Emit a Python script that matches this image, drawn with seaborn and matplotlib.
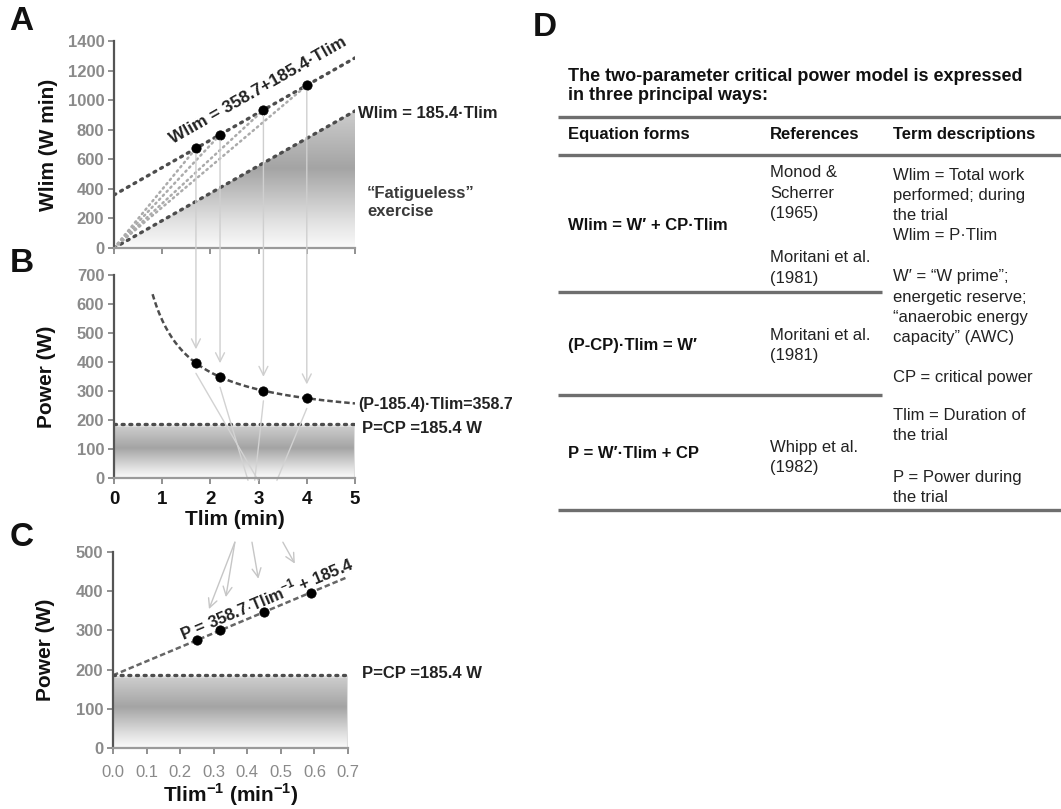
import numpy as np
import pandas as pd
import matplotlib
matplotlib.use("Agg")
import matplotlib.pyplot as plt
from matplotlib.patches import ConnectionPatch, Polygon, Rectangle
from matplotlib.colors import LinearSegmentedColormap
import seaborn as sns

# ---- model parameters ----
W_PRIME = 358.7   # W min
CP = 185.4        # W

# ---- trial data ----
tlim_min = [1.7, 2.2, 3.1, 4.0]          # time to exhaustion (min)
power_w = [396, 348, 301, 275]           # power output (W)
wlim_wmin = [674, 766, 933, 1100]        # total work (W min)
inv_tlim = [0.59, 0.45, 0.32, 0.25]      # 1/Tlim (min^-1)

# ---- axis ticks ----
a_yticks = [0, 200, 400, 600, 800, 1000, 1200, 1400]
b_yticks = [0, 100, 200, 300, 400, 500, 600, 700]
c_yticks = [0, 100, 200, 300, 400, 500]
time_ticks = [0, 1, 2, 3, 4, 5]
inv_ticks = [0.0, 0.1, 0.2, 0.3, 0.4, 0.5, 0.6, 0.7]
inv_ticklabels = ["0.0", "0.1", "0.2", "0.3", "0.4", "0.5", "0.6", "0.7"]

# ---- table text ----
table_title = "The two-parameter critical power model is expressed\nin three principal ways:"
table_headers = ["Equation forms", "References", "Term descriptions"]
equation_forms = ["Wlim = W\u2032 + CP\u00b7Tlim", "(P-CP)\u00b7Tlim = W\u2032", "P = W\u2032\u00b7Tlim + CP"]
references = [["Monod &", "Scherrer", "(1965)", "", "Moritani et al.", "(1981)"],
              ["Moritani et al.", "(1981)"],
              ["Whipp et al.", "(1982)"]]
term_descriptions = ["Wlim = Total work", "performed; during", "the trial", "Wlim = P\u00b7Tlim",
                     "W\u2032 = \u201cW prime\u201d;", "energetic reserve;", "\u201canaerobic energy",
                     "capacity\u201d (AWC)", "CP = critical power", "Tlim = Duration of", "the trial",
                     "P = Power during", "the trial"]

sns.set_theme(style="white")
plt.rcParams["font.family"] = ["Liberation Sans", "DejaVu Sans"]
plt.rcParams["mathtext.fontset"] = "custom"
plt.rcParams["mathtext.rm"] = "Liberation Sans"
plt.rcParams["mathtext.bf"] = "Liberation Sans:bold"

W, H = 1061, 809
fig = plt.figure(figsize=(W / 100, H / 100), dpi=100)
fig.patch.set_facecolor("white")


def px_axes(x0, y0, x1, y1):
    return fig.add_axes([x0 / W, 1 - y1 / H, (x1 - x0) / W, (y1 - y0) / H])


axA = px_axes(114, 41, 355, 248)
axB = px_axes(114, 275, 355, 478)
axC = px_axes(113, 552, 348, 748)

grad_cmap = LinearSegmentedColormap.from_list(
    "shade", [(0.0, "#fbfbfb"), (0.2, "#e0e0e0"), (0.58, "#a4a4a4"), (1.0, "#cdcdcd")])
grad = np.linspace(0, 1, 256).reshape(-1, 1)

DARK = "#4d4d4d"
TICKGRAY = "#8a8a8a"


def style_axes(ax):
    for s in ("top", "right"):
        ax.spines[s].set_visible(False)
    ax.spines["left"].set_color("#555555")
    ax.spines["left"].set_linewidth(1.6)
    ax.spines["bottom"].set_color("#9a9a9a")
    ax.spines["bottom"].set_linewidth(1.6)
    ax.tick_params(axis="both", which="major", direction="out", length=4, width=1.3,
                   color="#888888", labelcolor=TICKGRAY, labelsize=12, pad=3,
                   left=True, bottom=True)
    for lab in ax.get_yticklabels():
        lab.set_fontweight("bold")
    ax.grid(False)
    ax.set_facecolor("none")


# ---------------- Panel A ----------------
t_line = np.linspace(0, 5, 100)
axA.imshow(grad, origin="lower", aspect="auto", cmap=grad_cmap,
           extent=[0, 5, 0, CP * 5], zorder=0)
tri = Polygon([[0, 0], [5, CP * 5], [5, 0]], closed=True, transform=axA.transData,
              facecolor="none", edgecolor="none")
axA.add_patch(tri)
axA.images[0].set_clip_path(tri)

dot_style = dict(linestyle=(0, (0.6, 1.7)), linewidth=2.4, dash_capstyle="round")
sns.lineplot(x=t_line, y=W_PRIME + CP * t_line, ax=axA, color=DARK, **dot_style)
sns.lineplot(x=t_line, y=CP * t_line, ax=axA, color=DARK, **dot_style)
for t, w in zip(tlim_min, wlim_wmin):
    sns.lineplot(x=[0, t], y=[0, w], ax=axA, color="#ababab",
                 linestyle=(0, (0.6, 1.6)), linewidth=1.8, dash_capstyle="round")
sns.scatterplot(x=tlim_min, y=wlim_wmin, ax=axA, color="black", s=45,
                edgecolor="black", zorder=5)

axA.set_xlim(0, 5)
axA.set_ylim(0, 1400)
axA.set_xticks(time_ticks)
axA.set_yticks(a_yticks)
style_axes(axA)
axA.tick_params(axis="x", labelbottom=False)
axA.set_xlabel("")
axA.set_ylabel("Wlim (W min)", fontsize=15, fontweight="bold", color="#111111")
axA.yaxis.set_label_coords(-0.232, 0.5)

p1 = axA.transData.transform((0, W_PRIME))
p2 = axA.transData.transform((5, W_PRIME + CP * 5))
angA = np.degrees(np.arctan2(p2[1] - p1[1], p2[0] - p1[0]))
axA.text(2.98, 1065, f"Wlim = {W_PRIME}+{CP}\u00b7Tlim", rotation=angA,
         rotation_mode="anchor", ha="center", va="center", fontsize=12.5,
         fontweight="bold", color="#222222")
axA.text(5.06, 913, f"Wlim = {CP}\u00b7Tlim", ha="left", va="center", fontsize=12,
         fontweight="bold", color="#222222", clip_on=False)
axA.text(5.25, 305, "\u201cFatigueless\u201d\nexercise", ha="left", va="center", fontsize=12,
         fontweight="bold", color="#3a3a3a", linespacing=1.25, clip_on=False)

# ---------------- Panel B ----------------
axB.imshow(grad, origin="lower", aspect="auto", cmap=grad_cmap,
           extent=[0, 5, 0, 178], zorder=0)
axB.add_patch(Rectangle((0, 0), 5, 178, facecolor="none", edgecolor="#dedede",
                        linewidth=1.5, zorder=1))
t_curve = np.linspace(0.8, 5, 200)
sns.lineplot(x=t_curve, y=CP + W_PRIME / t_curve, ax=axB, color=DARK,
             linestyle=(0, (2.2, 1.2)), linewidth=1.8)
sns.lineplot(x=[0, 5], y=[CP, CP], ax=axB, color=DARK, **dot_style)
sns.scatterplot(x=tlim_min, y=power_w, ax=axB, color="black", s=45,
                edgecolor="black", zorder=5)

# guide lines from each point towards the reciprocal plot
cross_end_x = [2.99, 2.78, 2.92, 3.38]
for t, p, xe in zip(tlim_min, power_w, cross_end_x):
    axB.plot([t, xe], [p - 35, -8], color="#d2d2d2", linewidth=1.0, clip_on=False, zorder=2)

axB.set_xlim(0, 5)
axB.set_ylim(0, 700)
axB.set_xticks(time_ticks)
axB.set_yticks(b_yticks)
style_axes(axB)
axB.tick_params(axis="x", labelcolor="#111111", labelsize=13.5, pad=5)
for lab in axB.get_xticklabels():
    lab.set_fontweight("bold")
axB.set_xlabel("Tlim (min)", fontsize=15, fontweight="bold", color="#111111", labelpad=2)
axB.set_ylabel("Power (W)", fontsize=15, fontweight="bold", color="#111111")
axB.yaxis.set_label_coords(-0.24, 0.5)
axB.text(5.06, 252, f"(P-{CP})\u00b7Tlim={W_PRIME}", ha="left", va="center", fontsize=11.5,
         fontweight="bold", color="#222222", clip_on=False)
axB.text(5.15, 169, f"P=CP ={CP} W", ha="left", va="center", fontsize=12,
         fontweight="bold", color="#222222", clip_on=False)

# ---------------- Panel C ----------------
axC.imshow(grad, origin="lower", aspect="auto", cmap=grad_cmap,
           extent=[0, 0.7, 0, 180], zorder=0)
axC.add_patch(Rectangle((0, 0), 0.7, 180, facecolor="none", edgecolor="#dedede",
                        linewidth=1.5, zorder=1))
x_inv = np.linspace(0, 0.7, 100)
sns.lineplot(x=x_inv, y=CP + W_PRIME * x_inv, ax=axC, color="#666666",
             linestyle=(0, (2.2, 1.2)), linewidth=1.8)
sns.lineplot(x=[0, 0.7], y=[CP, CP], ax=axC, color=DARK, **dot_style)
sns.scatterplot(x=inv_tlim, y=power_w, ax=axC, color="black", s=45,
                edgecolor="black", zorder=5)

axC.set_xlim(0, 0.7)
axC.set_ylim(0, 500)
axC.set_xticks(inv_ticks)
axC.set_xticklabels(inv_ticklabels)
axC.set_yticks(c_yticks)
style_axes(axC)
axC.tick_params(axis="x", pad=8)
axC.set_xlabel(r"Tlim$^{\mathbf{-1}}$ (min$^{\mathbf{-1}}$)", fontsize=15,
               fontweight="bold", color="#111111", labelpad=1)
axC.set_ylabel("Power (W)", fontsize=15, fontweight="bold", color="#111111")
axC.yaxis.set_label_coords(-0.245, 0.5)

q1 = axC.transData.transform((0, CP))
q2 = axC.transData.transform((0.7, CP + W_PRIME * 0.7))
angC = np.degrees(np.arctan2(q2[1] - q1[1], q2[0] - q1[0]))
axC.text(0.456, 383, r"P = 358.7$\cdot$Tlim$^{\mathbf{-1}}$ + 185.4", rotation=angC,
         rotation_mode="anchor", ha="center", va="center", fontsize=12,
         fontweight="bold", color="#222222")
axC.text(0.742, 189, f"P=CP ={CP} W", ha="left", va="center", fontsize=12,
         fontweight="bold", color="#222222", clip_on=False)

arrow_start_x = [0.506, 0.414, 0.363, 0.363]
for xs, xi, p in zip(arrow_start_x, inv_tlim, power_w):
    axC.annotate("", xy=(xi, p), xytext=(xs, 525), xycoords="data", textcoords="data",
                 annotation_clip=False,
                 arrowprops=dict(arrowstyle="->", color="#c6c6c6", lw=1.0,
                                 shrinkA=0, shrinkB=24, mutation_scale=16))

# vertical guides from work points down to the power points
for t, w, p in zip(tlim_min, wlim_wmin, power_w):
    con = ConnectionPatch(xyA=(t, w), coordsA=axA.transData, xyB=(t, p), coordsB=axB.transData,
                          arrowstyle="->", color="#cfcfcf", lw=1.0, shrinkA=4, shrinkB=10,
                          mutation_scale=16, zorder=1)
    fig.add_artist(con)

# ---------------- Panel letters ----------------
for letter, (lx, ly) in zip("ABCD", [(21, 21), (22, 264), (22, 537), (545, 28)]):
    fig.text(lx / W, 1 - ly / H, letter, fontsize=24, fontweight="bold",
             ha="center", va="center", color="#111111")

# ---------------- Panel D: table ----------------
axD = fig.add_axes([0, 0, 1, 1], zorder=-1)
axD.set_xlim(0, W)
axD.set_ylim(H, 0)
axD.axis("off")

TXT = "#222222"
axD.text(568, 86, table_title, ha="left", va="center", fontsize=13, fontweight="bold",
         color="#111111", linespacing=1.15)
for y0, x0, x1 in [(117, 558, 1061), (155, 558, 1061), (292, 558, 882), (395, 558, 882),
                   (510, 558, 1061)]:
    axD.plot([x0, x1], [y0, y0], color="#6e6e6e", linewidth=2.4, solid_capstyle="butt")

for hx, head in zip([568, 770, 893], table_headers):
    axD.text(hx, 134, head, ha="left", va="center", fontsize=12, fontweight="bold", color="#111111")

for ey, eq in zip([225, 345, 453], equation_forms):
    axD.text(568, ey, eq, ha="left", va="center", fontsize=12, fontweight="bold", color="#111111")

ref_y = [[172, 193, 213, 0, 258, 278], [335, 355], [447, 467]]
for lines, ys in zip(references, ref_y):
    for txt, yy in zip(lines, ys):
        if txt:
            axD.text(770, yy, txt, ha="left", va="center", fontsize=12, color=TXT)

desc_y = [175, 195, 215, 235, 276, 297, 317, 337, 377, 415, 435, 477, 497]
for txt, yy in zip(term_descriptions, desc_y):
    axD.text(893, yy, txt, ha="left", va="center", fontsize=12, color=TXT)

fig.savefig("out.png", dpi=100, facecolor="white")
